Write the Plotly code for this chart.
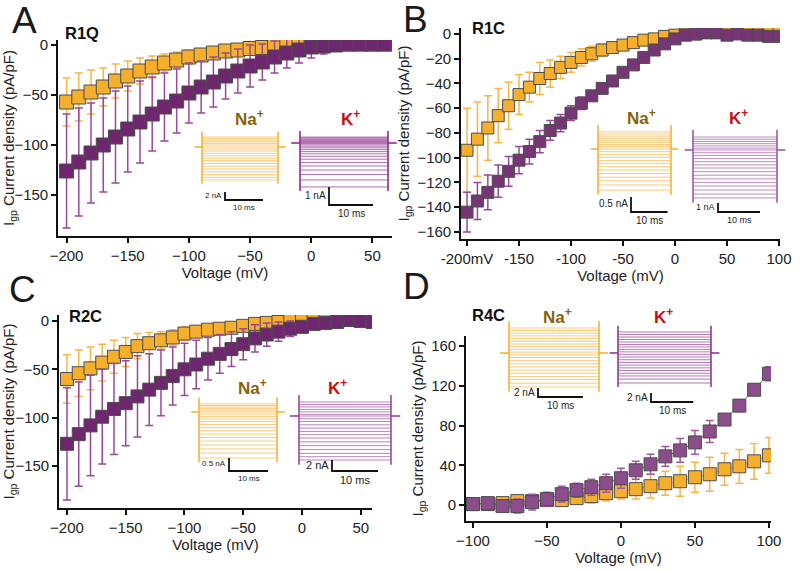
import plotly.graph_objects as go

W, H = 800, 572

# ---------------- data ----------------
V_AC = [-200, -190, -180, -170, -160, -150, -140, -130, -120, -110, -100, -90, -80, -70,
        -60, -50, -40, -30, -20, -10, 0, 10, 20, 30, 40, 50, 60]
V_B = [-200, -190, -180, -170, -160, -150, -140, -130, -120, -110, -100, -90, -80, -70,
       -60, -50, -40, -30, -20, -10, 0, 10, 20, 30, 40, 50, 60, 70, 80, 90, 100]
V_D = [-100, -90, -80, -70, -60, -50, -40, -30, -20, -10, 0, 10, 20, 30, 40, 50, 60, 70, 80, 90, 100]

A_na = [-57, -52, -47, -42, -36, -31, -26, -22, -18, -15, -12, -10, -8, -6, -5, -3.5, -2.5, -1.5, -1, 0, 0.5, 1, 1, 1, 1, 1, 1]
A_na_err = [24, 24, 22, 19, 17, 15, 13, 11, 9, 8, 7, 6, 5, 4, 4, 3, 3, 2, 2, 2, 1, 1, 1, 1, 1, 1, 1]
A_k = [-126, -117, -108, -100, -92, -84, -77, -69, -62, -56, -48, -42, -37, -31, -26, -21, -17, -12, -8, -5, -2, -1, 0, 1, 1, 1, 1]
A_k_err = [57, 54, 50, 47, 46, 43, 41, 37, 34, 32, 30, 26, 25, 23, 22, 21, 18, 16, 15, 13, 11, 8, 5, 3, 2, 1, 1]

B_na = [-94, -85, -76, -66, -58, -49, -43, -36, -32, -27, -23, -19, -16, -13, -11, -9, -7, -5, -4, -2, -1, 0, 0, 1, 1, 1, 1, 1, 2, 2, 2]
B_na_err = [34, 30, 26, 22, 19, 16, 12, 13, 11, 9, 8, 7, 6, 5, 4, 3, 3, 2, 2, 1, 1, 1, 1, 1, 1, 1, 1, 1, 1, 1, 1]
B_k = [-144, -135, -128, -119, -111, -102, -95, -87, -78, -72, -64, -56, -50, -44, -38, -31, -25, -19, -13, -8, -4, -1, 0, 1, 1, -1, 0, -1, -1, -2, -2]
B_k_err = [16, 15, 14, 13, 12, 11, 10, 9, 8, 7, 6, 5, 4, 3, 3, 2, 2, 2, 2, 2, 2, 1, 1, 1, 1, 1, 1, 1, 1, 1, 1]

C_na = [-60, -54, -49, -43, -37, -32, -26, -23, -20, -17, -13, -11, -9, -8, -7, -5, -3, -2, -1, 0, 0, 1, 2, 1, 1, 1, 1]
C_na_err = [25, 24, 22, 19, 17, 15, 13, 11, 9, 8, 7, 6, 5, 4, 4, 3, 3, 2, 2, 2, 1, 1, 1, 1, 1, 1, 1]
C_k = [-127, -117, -108, -99, -91, -85, -78, -71, -64, -57, -50, -45, -39, -34, -29, -24, -18, -14, -11, -8, -6, -3, -2, -1, 1, 0, -1]
C_k_err = [58, 54, 52, 49, 47, 44, 42, 37, 34, 30, 27, 25, 22, 20, 18, 16, 14, 12, 10, 8, 6, 4, 3, 2, 1, 1, 1]

D_na = [1, 1, 2, 4, 4, 5, 5, 7, 9, 12, 14, 16, 19, 22, 24, 28, 31, 36, 39, 44, 50]
D_na_err = [2, 2, 2, 3, 3, 4, 5, 6, 7, 8, 8, 10, 12, 12, 15, 15, 17, 16, 17, 18, 18]
D_k = [1, 2, -1, -1, 3, 6, 11, 15, 18, 22, 27, 35, 41, 49, 55, 63, 74, 86, 100, 116, 132]
D_k_err = [2, 2, 3, 7, 8, 7, 8, 7, 8, 9, 10, 9, 10, 10, 12, 12, 11, 5, 6, 3, 7]

# example current traces (steady levels of each sweep, nA)
A_na_sweeps = [2.5, 2.1, 1.7, 1.3, 0.9, 0.5, 0.0, -0.5, -1.0, -1.6, -2.2, -2.8, -3.4, -4.1, -4.8, -5.5, -6.2, -6.9, -7.6, -8.25]
A_k_sweeps = [0.33, 0.28, 0.23, 0.18, 0.13, 0.08, 0.03, -0.03, -0.1, -0.18, -0.27, -0.37, -0.48, -0.6, -0.74, -0.9, -1.08, -1.28, -1.5, -1.75, -2.05, -2.44]
B_na_sweeps = [0.57, 0.5, 0.43, 0.36, 0.29, 0.22, 0.15, 0.08, 0.0, -0.09, -0.18, -0.28, -0.38, -0.48, -0.59, -0.7, -0.82, -0.94, -1.06, -1.2, -1.37]
B_k_sweeps = [1.44, 1.2, 0.95, 0.7, 0.45, 0.2, 0.0, -0.3, -0.6, -0.95, -1.3, -1.65, -2.0, -2.4, -2.8, -3.2, -3.6, -4.0, -4.45, -4.9, -5.33]
C_na_sweeps = [0.31, 0.25, 0.19, 0.13, 0.07, 0.0, -0.08, -0.17, -0.27, -0.37, -0.48, -0.6, -0.72, -0.85, -0.98, -1.12, -1.27, -1.42, -1.58, -1.77]
C_k_sweeps = [2.55, 2.1, 1.65, 1.2, 0.75, 0.3, 0.0, -0.5, -1.0, -1.6, -2.2, -2.8, -3.4, -4.0, -4.7, -5.4, -6.1, -6.8, -7.4, -8.0]
D_na_sweeps = [5.55, 5.0, 4.4, 3.8, 3.2, 2.6, 2.0, 1.4, 0.8, 0.2, -0.4, -1.0, -1.7, -2.4, -3.1, -3.8, -4.5, -5.2, -5.9, -6.7, -7.55]
D_k_sweeps = [4.67, 4.1, 3.55, 3.0, 2.45, 1.9, 1.35, 0.8, 0.25, -0.3, -0.9, -1.5, -2.1, -2.7, -3.3, -3.9, -4.5, -5.1, -5.8, -6.67]
sweep_ms = [20, 20, 20, 20, 20, 20, 20, 22]
scale_nA = [2, 1, 0.5, 1, 0.5, 2, 2, 2]
scale_nA_text = ["2 nA", "1 nA", "0.5 nA", "1 nA", "0.5 nA", "2 nA", "2 nA", "2 nA"]
scale_ms = 10

x_ticks_AC = [-200, -150, -100, -50, 0, 50]
y_ticks_AC = [0, -50, -100, -150]
x_ticks_B = [-200, -150, -100, -50, 0, 50, 100]
x_ticklabels_B = ["-200mV", "-150", "-100", "-50", "0", "50", "100"]
y_ticks_B = [0, -20, -40, -60, -80, -100, -120, -140, -160]
x_ticks_D = [-100, -50, 0, 50, 100]
y_ticks_D = [0, 40, 80, 120, 160]

panel_letters = ["A", "B", "C", "D"]
panel_titles = ["R1Q", "R1C", "R2C", "R4C"]

# ---------------- styling / layout ----------------
FONT = "Liberation Sans, Arial, sans-serif"
ORANGE = "#F6AE2D"
ORANGE_ERR = "#F7B648"
EDGE = "#4d4d4d"


def fx(p):
    return p / W


def fy(p):
    return 1 - p / H


fig = go.Figure()

main = [
    dict(s="", xd=(58, 392), yd=(40, 236), xr=(-207, 66), yr=(-191, 5), xt=x_ticks_AC, xtt=None, yt=y_ticks_AC,
         V=V_AC, na=A_na, nae=A_na_err, k=A_k, ke=A_k_err, kc="#6E276E", kerr="#9A4899", ms=14),
    dict(s="2", xd=(461, 780), yd=(28, 239), xr=(-205.8, 101), yr=(-165.7, 4.8), xt=x_ticks_B, xtt=x_ticklabels_B, yt=y_ticks_B,
         V=V_B, na=B_na, nae=B_na_err, k=B_k, ke=B_k_err, kc="#763676", kerr="#9A4899", ms=12),
    dict(s="3", xd=(59, 372), yd=(315, 508), xr=(-206.8, 59.6), yr=(-193.4, 6.2), xt=x_ticks_AC, xtt=None, yt=y_ticks_AC,
         V=V_AC, na=C_na, nae=C_na_err, k=C_k, ke=C_k_err, kc="#6E276E", kerr="#9A4899", ms=13),
    dict(s="4", xd=(466, 771), yd=(336, 521), xr=(-104.7, 101.4), yr=(-16, 170), xt=x_ticks_D, xtt=None, yt=y_ticks_D,
         V=V_D, na=D_na, nae=D_na_err, k=D_k, ke=D_k_err, kc="#8B4D8B", kerr="#A05AA0", ms=13),
]

for p in main:
    xa, ya = "x" + p["s"], "y" + p["s"]
    for vals, errs, fill, errc in ((p["na"], p["nae"], ORANGE, ORANGE_ERR), (p["k"], p["ke"], p["kc"], p["kerr"])):
        fig.add_trace(go.Scatter(
            x=p["V"], y=vals, xaxis=xa, yaxis=ya, mode="lines+markers",
            line=dict(color=fill, width=1),
            marker=dict(symbol="square", size=p["ms"], color=fill, line=dict(color=EDGE, width=1)),
            error_y=dict(type="data", array=errs, color=errc, thickness=1.5, width=4),
            showlegend=False, hoverinfo="skip"))
    axx = dict(domain=[fx(p["xd"][0]), fx(p["xd"][1])], range=list(p["xr"]), anchor=ya, automargin=False,
               showgrid=False, zeroline=False, showline=True, linecolor="#111", linewidth=1.6,
               ticks="outside", ticklen=5, tickwidth=1.5, tickcolor="#111",
               tickvals=p["xt"], tickfont=dict(family=FONT, size=15, color="#222"),
               title=dict(text="Voltage (mV)", font=dict(family=FONT, size=15, color="#222"), standoff=4))
    if p["xtt"]:
        axx["ticktext"] = p["xtt"]
    axy = dict(domain=[fy(p["yd"][1]), fy(p["yd"][0])], range=list(p["yr"]), anchor=xa, automargin=False,
               showgrid=False, zeroline=False, showline=True, linecolor="#111", linewidth=1.6,
               ticks="outside", ticklen=5, tickwidth=1.5, tickcolor="#111",
               tickvals=p["yt"], tickfont=dict(family=FONT, size=15, color="#222"),
               title=dict(text="I<sub>gp</sub> Current density (pA/pF)", font=dict(family=FONT, size=15, color="#222"), standoff=4))
    fig.layout["xaxis" + p["s"]] = axx
    fig.layout["yaxis" + p["s"]] = axy

insets = [
    dict(lv=A_na_sweeps, t0=202, t1=278, hold=147, ppn=4.0, sbx=225, sby=200, col="#F7B23B", fs=8),
    dict(lv=A_k_sweeps, t0=300, t1=388, hold=143, ppn=18.0, sbx=329, sby=205, col="#8B2F8B", fs=10),
    dict(lv=B_na_sweeps, t0=598, t1=671, hold=149, ppn=30.0, sbx=631, sby=212, col="#F7B23B", fs=10),
    dict(lv=B_k_sweeps, t0=693, t1=777, hold=150, ppn=9.0, sbx=718, sby=212, col="#A05AA0", fs=9),
    dict(lv=C_na_sweeps, t0=199, t1=277, hold=412, ppn=26.0, sbx=229, sby=471, col="#F7B23B", fs=8),
    dict(lv=C_k_sweeps, t0=299, t1=391, hold=416, ppn=5.5, sbx=332, sby=471, col="#9A4A9A", fs=11),
    dict(lv=D_na_sweeps, t0=509, t1=599, hold=353, ppn=4.5, sbx=538, sby=397, col="#F7B23B", fs=10),
    dict(lv=D_k_sweeps, t0=618, t1=711, hold=353, ppn=4.5, sbx=651, sby=402, col="#8E3A8E", fs=10),
]

annotations = []
for i, ins in enumerate(insets):
    n = str(5 + i)
    T = sweep_ms[i]
    ppms = (ins["t1"] - ins["t0"]) / T
    ppn = ins["ppn"]
    top_px = ins["hold"] - max(ins["lv"]) * ppn
    dx0, dx1 = ins["t0"] - 30, ins["t1"] + 20
    dy0, dy1 = top_px - 25, ins["sby"] + 25
    fig.layout["xaxis" + n] = dict(domain=[fx(dx0), fx(dx1)], range=[(dx0 - ins["t0"]) / ppms, (dx1 - ins["t0"]) / ppms],
                                   anchor="y" + n, visible=False, fixedrange=True, automargin=False)
    fig.layout["yaxis" + n] = dict(domain=[fy(dy1), fy(dy0)], range=[(ins["hold"] - dy1) / ppn, (ins["hold"] - dy0) / ppn],
                                   anchor="x" + n, visible=False, fixedrange=True, automargin=False)
    lv = ins["lv"]
    span = max(lv) - min(lv)
    xs, ys = [], []
    for v in lv:
        xs += [0, T, None]
        ys += [v, v, None]
    fig.add_trace(go.Scatter(x=xs, y=ys, xaxis="x" + n, yaxis="y" + n, mode="lines",
                             line=dict(color=ins["col"], width=0.8), opacity=0.85,
                             showlegend=False, hoverinfo="skip"))
    tx = [0, 0, None, T, T, None, -2, 0, None, T, T + 2, None]
    ty = [max(lv) + 0.12 * span, min(lv) - 0.08 * span, None, max(lv) + 0.12 * span, min(lv) - 0.08 * span, None,
          0, 0, None, 0, 0, None]
    fig.add_trace(go.Scatter(x=tx, y=ty, xaxis="x" + n, yaxis="y" + n, mode="lines",
                             line=dict(color=ins["col"], width=1.6),
                             showlegend=False, hoverinfo="skip"))
    sx = (ins["sbx"] - ins["t0"]) / ppms
    sy = (ins["hold"] - ins["sby"]) / ppn
    fig.add_trace(go.Scatter(x=[sx, sx, sx + scale_ms], y=[sy + scale_nA[i], sy, sy], xaxis="x" + n, yaxis="y" + n,
                             mode="lines", line=dict(color="#111", width=1.8),
                             showlegend=False, hoverinfo="skip"))
    annotations.append(dict(x=sx, y=sy + scale_nA[i] * 0.55, xref="x" + n, yref="y" + n, text=scale_nA_text[i],
                            showarrow=False, xanchor="right", yanchor="middle", xshift=-1,
                            font=dict(family=FONT, size=ins["fs"], color="#222")))
    annotations.append(dict(x=sx + scale_ms / 2, y=sy, xref="x" + n, yref="y" + n, text=f"{scale_ms} ms",
                            showarrow=False, xanchor="center", yanchor="top", yshift=-1,
                            font=dict(family=FONT, size=ins["fs"], color="#222")))

ion_pos = [((249, 118), (350, 118)), ((641, 117), (738, 117)), ((252, 387), (337, 387)), ((557, 316), (663, 316))]
for (nx, ny), (kx, ky) in ion_pos:
    annotations.append(dict(x=fx(nx), y=fy(ny), xref="paper", yref="paper", text="<b>Na<sup>+</sup></b>",
                            showarrow=False, xanchor="center", yanchor="middle",
                            font=dict(family=FONT, size=17, color="#86640C")))
    annotations.append(dict(x=fx(kx), y=fy(ky), xref="paper", yref="paper", text="<b>K<sup>+</sup></b>",
                            showarrow=False, xanchor="center", yanchor="middle",
                            font=dict(family=FONT, size=17, color="#C80F14")))

letter_pos = [(24, 20), (415, 19), (22, 289), (416, 286)]
title_pos = [(82, 33), (488, 28), (85, 316), (489, 315)]
for L, (lx, ly), t, (tx_, ty_) in zip(panel_letters, letter_pos, panel_titles, title_pos):
    annotations.append(dict(x=fx(lx), y=fy(ly), xref="paper", yref="paper", text=L, showarrow=False,
                            xanchor="center", yanchor="middle", font=dict(family=FONT, size=37, color="#1a1a1a")))
    annotations.append(dict(x=fx(tx_), y=fy(ty_), xref="paper", yref="paper", text=f"<b>{t}</b>", showarrow=False,
                            xanchor="center", yanchor="middle", font=dict(family=FONT, size=16.5, color="#111")))

fig.update_layout(width=W, height=H, margin=dict(l=0, r=0, t=0, b=0, autoexpand=False),
                  paper_bgcolor="white", plot_bgcolor="rgba(0,0,0,0)",
                  annotations=annotations, showlegend=False)

fig.write_html("out.html", config={"displayModeBar": False},
               post_script="document.body.style.margin='0px';document.body.style.overflow='hidden';")
